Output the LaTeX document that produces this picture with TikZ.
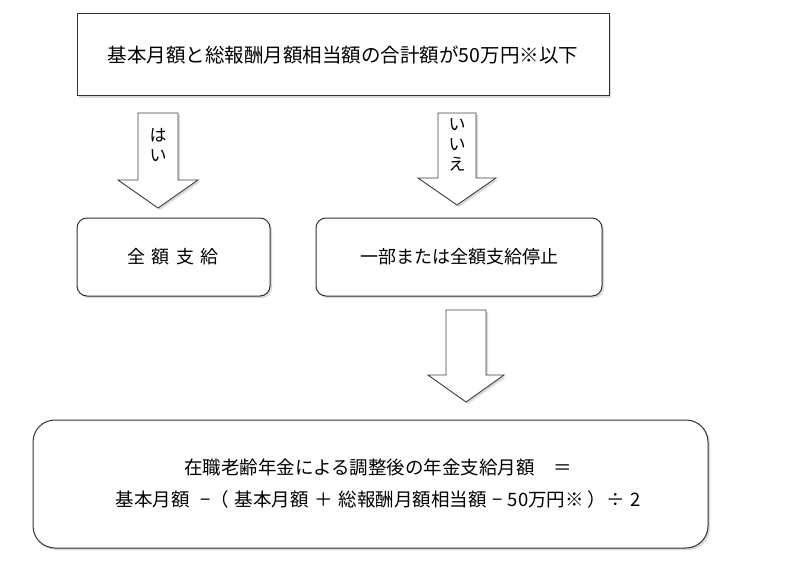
\documentclass[tikz,border=0pt]{standalone}
\usepackage{fontspec}
\setmainfont{Noto Sans CJK JP}
\usetikzlibrary{shadows}
\begin{document}
\begin{tikzpicture}[x=1pt,y=-1pt,
 box/.style={draw=black!80,line width=1pt,fill=white,drop shadow={shadow xshift=2pt,shadow yshift=-2pt,opacity=0.3}},
 arr/.style={draw=black!75,line width=0.9pt,fill=white,drop shadow={shadow xshift=2pt,shadow yshift=-2pt,opacity=0.3}},
 txt/.style={font=\fontsize{19}{32}\selectfont,align=center}]
\useasboundingbox (0,0) rectangle (800,580);
\draw[box] (77,14) rectangle (609,96);
\node[txt,font=\fontsize{19.5}{30}\selectfont] (top) at (343,55) {基本月額と総報酬月額相当額の合計額が50万円※以下};
\draw[box,rounded corners=10pt] (77,218) rectangle (270,296);
\node[txt,font=\fontsize{18}{30}\selectfont] (full) at (173,257) {全\hspace{0.35em}額\hspace{0.35em}支\hspace{0.35em}給};
\draw[box,rounded corners=10pt] (316,218) rectangle (602,296);
\node[txt,font=\fontsize{18}{30}\selectfont] (part) at (459,257) {一部または全額支給停止};
\draw[box,rounded corners=22pt] (33,420) rectangle (708,548);
\node[txt,font=\fontsize{18.5}{32}\selectfont] (res) at (378,484) {在職老齢年金による調整後の年金支給月額\hspace{1em}＝\\基本月額\hspace{0.6em}−（\hspace{0.3em}基本月額\hspace{0.3em}＋\hspace{0.3em}総報酬月額相当額\hspace{0.3em}−\hspace{0.3em}50万円※\hspace{0.2em}）÷\hspace{0.3em}2};
\draw[arr] (138,113)--(178,113)--(178,180)--(198,180)--(158,208)--(118,180)--(138,180)--cycle;
\node[txt,font=\fontsize{17}{20}\selectfont] (yes) at (158,145) {は\\い};
\draw[arr] (438,113)--(476,113)--(476,178)--(496,178)--(457,205)--(418,178)--(438,178)--cycle;
\node[txt,font=\fontsize{17}{20}\selectfont] (no) at (457,145) {い\\い\\え};
\draw[arr] (446,310)--(486,310)--(486,375)--(504,375)--(466,402)--(428,375)--(446,375)--cycle;
\end{tikzpicture}
\end{document}
